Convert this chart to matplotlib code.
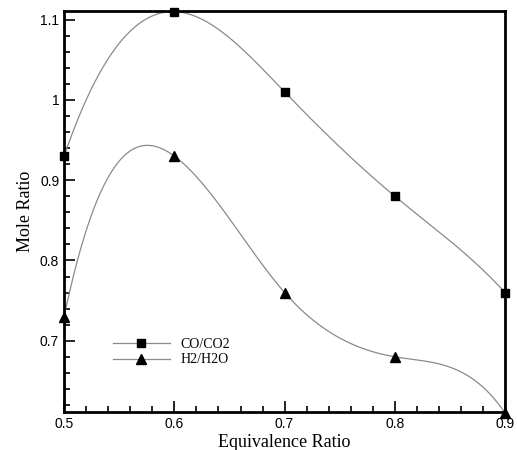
import numpy as np
import matplotlib
matplotlib.use("Agg")
import matplotlib.pyplot as plt
from matplotlib.ticker import MultipleLocator, FuncFormatter

phi = [0.5, 0.6, 0.7, 0.8, 0.9]
co_co2 = [0.93, 1.11, 1.01, 0.88, 0.76]
h2_h2o = [0.73, 0.93, 0.76, 0.68, 0.61]
# end slopes of the drawn splines (clamped ends)
co_ends = (4.0, -1.5)
h2_ends = (6.5, -2.0)


def clamped_spline(x, y, s0, sn, n=400):
    # cubic spline with given end derivatives, no scipy needed
    x = np.asarray(x, float); y = np.asarray(y, float)
    m = len(x); h = np.diff(x)
    A = np.zeros((m, m)); b = np.zeros(m)
    A[0, 0] = 2 * h[0]; A[0, 1] = h[0]
    b[0] = 3 * ((y[1] - y[0]) / h[0] - s0)
    A[-1, -2] = h[-1]; A[-1, -1] = 2 * h[-1]
    b[-1] = 3 * (sn - (y[-1] - y[-2]) / h[-1])
    for i in range(1, m - 1):
        A[i, i - 1] = h[i - 1]; A[i, i] = 2 * (h[i - 1] + h[i]); A[i, i + 1] = h[i]
        b[i] = 3 * ((y[i + 1] - y[i]) / h[i] - (y[i] - y[i - 1]) / h[i - 1])
    c = np.linalg.solve(A, b)
    xs = np.linspace(x[0], x[-1], n)
    idx = np.clip(np.searchsorted(x, xs) - 1, 0, m - 2)
    dx = xs - x[idx]
    bb = (y[1:] - y[:-1]) / h - h * (2 * c[:-1] + c[1:]) / 3
    d = (c[1:] - c[:-1]) / (3 * h)
    ys = y[idx] + bb[idx] * dx + c[idx] * dx ** 2 + d[idx] * dx ** 3
    return xs, ys


fig = plt.figure(figsize=(5.17, 4.5), dpi=100)
ax = fig.add_axes([0.124, 0.084, 0.853, 0.892])

for vals, ends, mk, ms, lab in [(co_co2, co_ends, "s", 6, "CO/CO2"),
                                (h2_h2o, h2_ends, "^", 7.5, "H2/H2O")]:
    xs, ys = clamped_spline(phi, vals, *ends)
    ax.plot(xs, ys, color="#8a8a8a", lw=0.9, zorder=2)
    ax.plot(phi, vals, ls="none", marker=mk, ms=ms, color="black", zorder=3, clip_on=False)
    ax.plot([], [], color="#8a8a8a", lw=0.9, marker=mk, ms=ms, mfc="black", mec="black", label=lab)

ax.set_xlim(0.5, 0.9)
ax.set_ylim(0.611, 1.111)
ax.xaxis.set_major_locator(MultipleLocator(0.1))
ax.xaxis.set_minor_locator(MultipleLocator(0.02))
ax.yaxis.set_major_locator(MultipleLocator(0.1))
ax.yaxis.set_minor_locator(MultipleLocator(0.02))
fmt = FuncFormatter(lambda v, p: "%g" % round(v, 3))
ax.xaxis.set_major_formatter(fmt)
ax.yaxis.set_major_formatter(fmt)
ax.tick_params(which="both", direction="in", top=False, right=False, width=1.2)
ax.tick_params(which="major", length=8, labelsize=10)
ax.tick_params(which="minor", length=4)
for lbl in ax.get_xticklabels() + ax.get_yticklabels():
    lbl.set_fontfamily("Liberation Sans")
for s in ax.spines.values():
    s.set_linewidth(2)

ax.set_xlabel("Equivalence Ratio", family="Liberation Serif", fontsize=13, labelpad=2)
ax.set_ylabel("Mole Ratio", family="Liberation Serif", fontsize=13, labelpad=4)

ax.legend(loc="center left", bbox_to_anchor=(0.082, 0.15), frameon=False,
          prop={"family": "Liberation Serif", "size": 10}, handlelength=4.1,
          labelspacing=0.2, handletextpad=0.8)

fig.savefig("out.png", dpi=100)
